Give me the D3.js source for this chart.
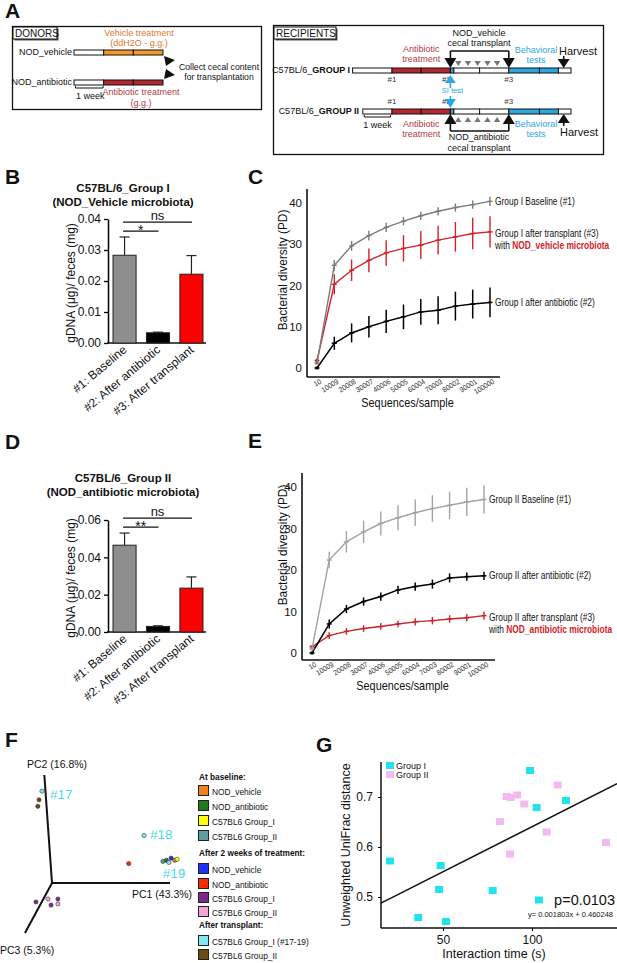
<!doctype html>
<html lang="en">
<head>
<meta charset="utf-8">
<title>Microbiota transplant figure</title>
<script src="https://d3js.org/d3.v7.min.js"></script>
<style>
    body { margin: 0; background: #fff; }
    svg text { font-family: "Liberation Sans", Arial, Helvetica, sans-serif; fill: #111; }
    .letter { font-size: 21px; font-weight: bold; }
</style>
</head>
<body>
<svg id="fig" width="617" height="963"></svg>
<script>
// ---------------- Data ----------------

// Panel A: timelines, in weeks (0 = start of antibiotic in recipients)
var donorNames      = ["NOD_vehicle", "NOD_antibiotic"];
var donorSegStart   = [0, 1, 2];
var donorSegEnd     = [1, 2, 3];
var donorSegType    = [["none", "vehicle", "vehicle"], ["none", "antibiotic", "antibiotic"]];

var recipNames      = ["GROUP I", "GROUP II"];
var recipFirstWeek  = [-1.35, -1];
var recipSegStart   = [null, 0, 1, 2, 2.12, 3, 4, 5.05, 5.7];
var recipSegEnd     = [0, 1, 2, 2.12, 3, 4, 5.05, 5.7, 6.13];
var recipSegType    = ["none", "antibiotic", "antibiotic", "si", "none", "none", "behavior", "behavior", "none"];
var sampleLabels    = ["#1", "#2", "#3"];
var sampleWeeks     = [0, 2, 4];
var transplantWeeks = [2, 4];
var gavageWeeks     = [2.27, 2.6, 2.93, 3.27, 3.6];
var harvestWeek     = 5.88;

// Panels B and D: gDNA per feces
var barCategories = ["#1: Baseline", "#2: After antibiotic", "#3: After transplant"];
var groupIMeans   = [0.0283, 0.0033, 0.0222];
var groupIErr     = [0.0059, 0.0002, 0.0060];
var groupIIMeans  = [0.0465, 0.0030, 0.0235];
var groupIIErr    = [0.0065, 0.0003, 0.0060];

// Panels C and E: rarefaction curves
var seqDepth = [10, 10009, 20008, 30007, 40006, 50005, 60004, 70003, 80002, 90001, 100000];

var cBaseline       = [1.2, 24.9, 29.6, 32.1, 34.1, 35.6, 36.9, 38.0, 38.9, 39.6, 40.4];
var cBaselineErr    = [0.3, 1.3, 1.2, 1.2, 1.1, 1.0, 1.0, 1.0, 1.0, 1.0, 1.1];
var cTransplant     = [1.8, 20.3, 23.7, 26.1, 27.9, 29.0, 29.8, 31.0, 31.8, 32.6, 33.0];
var cTransplantErr  = [0.5, 2.4, 2.6, 2.9, 3.1, 3.2, 3.4, 3.5, 3.6, 3.8, 3.8];
var cAntibiotic     = [0.0, 6.0, 8.5, 10.0, 11.3, 12.4, 13.6, 14.0, 15.0, 15.5, 15.9];
var cAntibioticErr  = [0.2, 1.6, 2.3, 2.6, 2.8, 3.0, 3.1, 3.4, 3.5, 3.5, 3.6];

var eBaseline       = [1.0, 22.4, 26.8, 29.2, 31.2, 32.6, 33.8, 34.8, 35.6, 36.4, 37.0];
var eBaselineErr    = [0.3, 2.0, 2.6, 2.7, 2.9, 3.0, 3.2, 3.2, 3.3, 3.4, 3.4];
var eAntibiotic     = [0.0, 7.0, 10.6, 12.4, 13.6, 15.2, 16.0, 16.6, 18.1, 18.4, 18.6];
var eAntibioticErr  = [0.2, 1.1, 1.0, 1.0, 1.0, 1.0, 1.0, 1.1, 1.1, 1.0, 1.0];
var eTransplant     = [1.5, 4.2, 5.2, 5.9, 6.4, 7.0, 7.5, 7.8, 8.2, 8.5, 9.0];
var eTransplantErr  = [0.3, 0.8, 0.8, 0.8, 0.8, 0.8, 0.9, 0.9, 0.9, 0.9, 1.0];

// Panel F: PCoA points, projected onto the page plane (PC1 / PC2 axis units)
var pcaProjX  = [-0.085, -0.11, -0.12, 0.78, 0.94, 0.97, 0.99, 1.01, 1.04, 1.06, 0.65, -0.136, -0.034, -0.008, 0.05, 0.05];
var pcaProjY  = [0.85, 0.77, 0.71, 0.44, 0.20, 0.21, 0.19, 0.23, 0.21, 0.22, 0.18, -0.176, -0.148, -0.204, -0.148, -0.194];
var pcaGroup  = [8, 9, 9, 8, 3, 1, 8, 4, 0, 2, 5, 6, 7, 6, 6, 7];
var pcAxisNames = ["PC1 (43.3%)", "PC2 (16.8%)", "PC3 (5.3%)"];
var pcAxisEndX  = [1, -0.065, -0.229];
var pcAxisEndY  = [0, 1, -0.463];
var pcHighlights = ["#17", "#18", "#19"];
var pcHighlightPoint = [0, 3, 6];

var legendSections = ["At baseline:", "After 2 weeks of treatment:", "After transplant:"];
var legendLabels = ["NOD_vehicle", "NOD_antibiotic", "C57BL6 Group_I", "C57BL6 Group_II",
                    "NOD_vehicle", "NOD_antibiotic", "C57BL6 Group_I", "C57BL6 Group_II",
                    "C57BL6 Group_I (#17-19)", "C57BL6 Group_II"];

// Panel G: UniFrac distance vs interaction time
var gIx  = [20.2, 48.7, 47.8, 36.1, 51.7, 77.9, 98.9, 102.6, 103.9, 119.1];
var gIy  = [0.572, 0.563, 0.515, 0.459, 0.451, 0.513, 0.753, 0.679, 0.494, 0.693];
var gIIx = [82.0, 85.8, 88.0, 91.7, 95.7, 87.6, 108.2, 114.4, 141.6];
var gIIy = [0.651, 0.701, 0.699, 0.704, 0.686, 0.586, 0.630, 0.724, 0.609];
var regSlope = 0.001803, regIntercept = 0.460248, regPValue = "0.0103";

// ---------------- Styles ----------------
var segFill = { none: "#fff", vehicle: "#f39a2a", antibiotic: "#b5262f", si: "#2ba8e0", behavior: "#2ba8e0" };
var legendColors = ["#f0821e", "#1f7a1f", "#ffff00", "#5f9ea0", "#1e30ff", "#ff2a00", "#7b2a8b", "#f2a6d6", "#7fe8f2", "#6b4a14"];
var cyanG = "#22e3ec", pinkG = "#f3b9f0";

var svg = d3.select("#fig");
svg.append("rect").attr("width", 617).attr("height", 963).attr("fill", "#fff");

// Panel letters
var letters = [["A", 5, 18], ["B", 5, 184], ["C", 248, 184], ["D", 5, 449], ["E", 248, 448], ["F", 5, 747], ["G", 316, 752]];
svg.selectAll("text.letter").data(letters).enter().append("text")
    .attr("class", "letter").attr("x", function(d) { return d[1]; }).attr("y", function(d) { return d[2]; })
    .text(function(d) { return d[0]; });

// Text helper; opts.sx squeezes the text horizontally (the figure uses a narrow face)
function txt(g, x, y, s, size, opts) {
    opts = opts || {};
    var t = g.append("text").attr("font-size", size).text(s)
        .attr("text-anchor", opts.anchor || "start");
    if (opts.sx) t.attr("transform", "translate(" + x + "," + y + ") scale(" + opts.sx + ",1)");
    else t.attr("x", x).attr("y", y);
    if (opts.fill) t.style("fill", opts.fill);
    if (opts.bold) t.attr("font-weight", "bold");
    return t;
}
function tri(g, pts, fill) {
    g.append("path").attr("d", "M" + pts.map(function(p) { return p.join(","); }).join("L") + "Z").attr("fill", fill);
}
function arrowV(g, x, tip, dir, w, h, stem, fill) {
    // dir = 1 points down, -1 points up
    tri(g, [[x - w / 2, tip - dir * h], [x + w / 2, tip - dir * h], [x, tip]], fill);
    if (stem) g.append("line").attr("x1", x).attr("x2", x).attr("y1", tip - dir * h).attr("y2", tip - dir * (h + stem))
        .attr("stroke", fill).attr("stroke-width", 1.6);
}
function labelBox(g, x, y, w, h, s) {
    g.append("rect").attr("x", x + 1.5).attr("y", y + 1.5).attr("width", w).attr("height", h).attr("fill", "#555");
    g.append("rect").attr("x", x).attr("y", y).attr("width", w).attr("height", h).attr("fill", "#fff").attr("stroke", "#111");
    txt(g, x + 2, y + h - 2.5, s, 10);
}

// ---------------- Panel A ----------------
var gA = svg.append("g");

// Donors
gA.append("rect").attr("x", 12.5).attr("y", 26.5).attr("width", 249).attr("height", 83)
    .attr("fill", "none").attr("stroke", "#111").attr("stroke-width", 1.3);
labelBox(gA, 13, 27, 44, 12, "DONORS");

var wxD = d3.scaleLinear().domain([0, 3]).range([74, 163]);
var donorY = [50, 80];
donorNames.forEach(function(name, r) {
    txt(gA, 72, donorY[r] + 5, name, 9, { anchor: "end" });
    donorSegStart.forEach(function(s, i) {
        gA.append("rect").attr("x", wxD(s)).attr("y", donorY[r]).attr("width", wxD(donorSegEnd[i]) - wxD(s)).attr("height", 5)
            .attr("fill", segFill[donorSegType[r][i]]).attr("stroke", "#111").attr("stroke-width", 1);
    });
});
txt(gA, 139, 36, "Vehicle treatment", 9, { anchor: "middle", fill: "#e07a2e" });
txt(gA, 139, 46, "(ddH2O - g.g.)", 9, { anchor: "middle", fill: "#e07a2e" });
txt(gA, 141, 95, "Antibiotic treatment", 9, { anchor: "middle", fill: "#b03a44" });
txt(gA, 141, 106, "(g.g.)", 9, { anchor: "middle", fill: "#b03a44" });
gA.append("path").attr("d", "M" + wxD(0.05) + ",86V88H" + wxD(0.98) + "V86").attr("fill", "none").attr("stroke", "#111");
txt(gA, wxD(0.55), 99, "1 week", 9, { anchor: "middle" });
tri(gA, [[164, 56], [175, 60], [166, 66]], "#111");
tri(gA, [[164, 79], [175, 75], [166, 69]], "#111");
txt(gA, 219, 70, "Collect cecal content", 8.7, { anchor: "middle" });
txt(gA, 219, 80, "for transplantation", 8.7, { anchor: "middle" });

// Recipients
gA.append("rect").attr("x", 273.5).attr("y", 25.5).attr("width", 330).attr("height", 129)
    .attr("fill", "none").attr("stroke", "#111").attr("stroke-width", 1.3);
labelBox(gA, 274, 27, 62, 12, "RECIPIENTS");

var wxR = d3.scaleLinear().domain([0, 1]).range([392, 421.2]);
var recipY = [68, 109];
recipNames.forEach(function(name, r) {
    var lab = txt(gA, r === 0 ? 350 : 359, recipY[r] + 5, "C57BL/6_", 9, { anchor: "end" });
    lab.append("tspan").attr("font-weight", "bold").text(name);
    recipSegStart.forEach(function(s, i) {
        var s0 = (s === null) ? recipFirstWeek[r] : s;
        gA.append("rect").attr("x", wxR(s0)).attr("y", recipY[r]).attr("width", wxR(recipSegEnd[i]) - wxR(s0)).attr("height", 5)
            .attr("fill", segFill[recipSegType[i]]).attr("stroke", "#111").attr("stroke-width", 1);
    });
    sampleLabels.forEach(function(s, i) {
        txt(gA, wxR(sampleWeeks[i]) - (i === 1 ? 4 : 0), r === 0 ? 82 : 104, s, 8, { anchor: "middle", fill: "#333" });
    });
});

// Group I: transplant arrows above the bar
transplantWeeks.forEach(function(w) { arrowV(gA, wxR(w), 68, 1, 12, 10, 7, "#111"); });
gA.append("line").attr("x1", wxR(2)).attr("x2", wxR(4)).attr("y1", 51).attr("y2", 51).attr("stroke", "#111").attr("stroke-width", 1.6);
gavageWeeks.forEach(function(w) { arrowV(gA, wxR(w), 66, 1, 6.5, 5, 0, "#777"); });
arrowV(gA, wxR(harvestWeek), 68, 1, 12, 9, 3, "#111");
txt(gA, wxR(1), 52, "Antibiotic", 9, { anchor: "middle", fill: "#b03a44" });
txt(gA, wxR(1), 62, "treatment", 9, { anchor: "middle", fill: "#b03a44" });
txt(gA, 479, 36, "NOD_vehicle", 9, { anchor: "middle" });
txt(gA, 479, 46, "cecal transplant", 9, { anchor: "middle" });
txt(gA, 536, 53, "Behavioral", 9, { anchor: "middle", fill: "#2ba8e0" });
txt(gA, 536, 63, "tests", 9, { anchor: "middle", fill: "#2ba8e0" });
txt(gA, 578, 55, "Harvest", 11, { anchor: "middle" });

// SI test arrows
arrowV(gA, wxR(2), 75, -1, 11, 8, 5, "#2ba8e0");
txt(gA, wxR(2) + 2, 93, "SI test", 7.5, { anchor: "middle", fill: "#2ba8e0" });
arrowV(gA, wxR(2), 108, 1, 11, 9, 3, "#2ba8e0");

// Group II: transplant arrows below the bar
transplantWeeks.forEach(function(w) { arrowV(gA, wxR(w), 114, -1, 12, 10, 7, "#111"); });
gA.append("line").attr("x1", wxR(2)).attr("x2", wxR(4)).attr("y1", 131).attr("y2", 131).attr("stroke", "#111").attr("stroke-width", 1.6);
gavageWeeks.forEach(function(w) { arrowV(gA, wxR(w), 117, -1, 6.5, 5, 0, "#777"); });
arrowV(gA, wxR(harvestWeek), 114, -1, 12, 9, 3, "#111");
gA.append("path").attr("d", "M" + wxR(-0.95) + ",115V117H" + wxR(-0.05) + "V115").attr("fill", "none").attr("stroke", "#111");
txt(gA, wxR(-0.5), 128, "1 week", 9, { anchor: "middle" });
txt(gA, wxR(1), 127, "Antibiotic", 9, { anchor: "middle", fill: "#b03a44" });
txt(gA, wxR(1), 137, "treatment", 9, { anchor: "middle", fill: "#b03a44" });
txt(gA, 479, 140, "NOD_antibiotic", 9, { anchor: "middle" });
txt(gA, 479, 151, "cecal transplant", 9, { anchor: "middle" });
txt(gA, 536, 127, "Behavioral", 9, { anchor: "middle", fill: "#2ba8e0" });
txt(gA, 536, 137, "tests", 9, { anchor: "middle", fill: "#2ba8e0" });
txt(gA, 579, 136, "Harvest", 11, { anchor: "middle" });

// ---------------- Panels B and D: bar charts ----------------
function drawBars(o) {
    var g = svg.append("g");
    var x = d3.scaleBand().domain(barCategories).range([108, 208]).paddingInner(0.31).paddingOuter(0.15);
    var y = d3.scaleLinear().domain([0, o.yMax]).range([o.y0, o.y1]);
    var fills = ["#8e8e8e", "#000", "#ff0000"];

    txt(g, 123, o.titleY, o.title[0], 11.5, { anchor: "middle", bold: true });
    txt(g, 123, o.titleY + 14, o.title[1], 11.5, { anchor: "middle", bold: true });

    // Y axis
    var ax = g.append("g").attr("transform", "translate(108,0)")
        .call(d3.axisLeft(y).tickValues(o.ticks).tickFormat(d3.format(".2f")).tickSize(4).tickSizeOuter(0));
    ax.select(".domain").attr("stroke-width", 1.5);
    ax.selectAll(".tick line").attr("stroke-width", 1.3);
    ax.selectAll("text").attr("font-size", 12).attr("font-family", "Liberation Sans, Arial, sans-serif").style("fill", "#111");
    g.append("line").attr("x1", 107).attr("x2", 206).attr("y1", o.y0).attr("y2", o.y0).attr("stroke", "#111").attr("stroke-width", 1.5);

    // Bars with upward error bars
    var bar = g.selectAll("g.bar").data(o.means).enter().append("g");
    bar.append("line")
        .attr("x1", function(d, i) { return x(barCategories[i]) + x.bandwidth() / 2; })
        .attr("x2", function(d, i) { return x(barCategories[i]) + x.bandwidth() / 2; })
        .attr("y1", function(d) { return y(d); })
        .attr("y2", function(d, i) { return y(d + o.errs[i]); })
        .attr("stroke", "#222").attr("stroke-width", 1.2);
    bar.append("line")
        .attr("x1", function(d, i) { return x(barCategories[i]) + x.bandwidth() / 2 - 5; })
        .attr("x2", function(d, i) { return x(barCategories[i]) + x.bandwidth() / 2 + 5; })
        .attr("y1", function(d, i) { return y(d + o.errs[i]); })
        .attr("y2", function(d, i) { return y(d + o.errs[i]); })
        .attr("stroke", "#222").attr("stroke-width", 1.2);
    bar.append("rect")
        .attr("x", function(d, i) { return x(barCategories[i]); })
        .attr("y", function(d) { return y(d); })
        .attr("width", x.bandwidth())
        .attr("height", function(d) { return o.y0 - y(d); })
        .attr("fill", function(d, i) { return fills[i]; })
        .attr("stroke", "#222").attr("stroke-width", 1);

    // Category labels
    g.selectAll("text.cat").data(barCategories).enter().append("text")
        .attr("font-size", 12).attr("text-anchor", "end")
        .attr("transform", function(d) { return "translate(" + (x(d) + x.bandwidth() / 2 + 3) + "," + (o.y0 + 8) + ") rotate(-40)"; })
        .text(function(d) { return d; });

    // Significance brackets
    o.sig.forEach(function(s) {
        var xa = x(barCategories[s[1]]) + x.bandwidth() / 2 - 1.5, xb = x(barCategories[s[2]]) + x.bandwidth() / 2 + 0.5;
        g.append("line").attr("x1", xa).attr("x2", xb).attr("y1", y(s[3])).attr("y2", y(s[3])).attr("stroke", "#111").attr("stroke-width", 1.3);
        txt(g, (xa + xb) / 2, y(s[3]) - (s[0] === "ns" ? 2 : -4), s[0], s[0] === "ns" ? 13 : 14, { anchor: "middle" });
    });

    // Y label
    g.append("text").attr("transform", "translate(" + 75 + "," + ((o.y0 + o.y1) / 2 + 2) + ") rotate(-90)")
        .attr("text-anchor", "middle").attr("font-size", 12).text("gDNA (\u03bcg)/ feces (mg)");
}

drawBars({ means: groupIMeans, errs: groupIErr, yMax: 0.04, ticks: [0, 0.01, 0.02, 0.03, 0.04], y0: 343, y1: 219, titleY: 192,
           title: ["C57BL/6_Group I", "(NOD_Vehicle microbiota)"], sig: [["*", 0, 1, 0.0361], ["ns", 0, 2, 0.039]] });
drawBars({ means: groupIIMeans, errs: groupIIErr, yMax: 0.06, ticks: [0, 0.02, 0.04, 0.06], y0: 632, y1: 520, titleY: 482,
           title: ["C57BL/6_Group II", "(NOD_antibiotic microbiota)"], sig: [["**", 0, 1, 0.0562], ["ns", 0, 2, 0.0610]] });

// ---------------- Panels C and E: rarefaction curves ----------------
function drawCurves(o) {
    var g = svg.append("g");
    var x = d3.scaleLinear().domain([10, 100000]).range([o.xL, o.xR]);
    var y = d3.scaleLinear().domain([0, 40]).range([o.y0, o.y40]);

    g.append("line").attr("x1", o.axX).attr("x2", o.axX).attr("y1", o.axTop).attr("y2", o.axBottom).attr("stroke", "#111").attr("stroke-width", 1.6);
    g.append("line").attr("x1", o.axX).attr("x2", o.axRight).attr("y1", o.axBottom).attr("y2", o.axBottom).attr("stroke", "#111").attr("stroke-width", 1.6);

    var ay = g.append("g").attr("transform", "translate(" + o.axX + ",0)")
        .call(d3.axisLeft(y).tickValues([0, 10, 20, 30, 40]).tickSize(0).tickPadding(5));
    ay.select(".domain").remove();
    ay.selectAll("text").attr("font-size", 11.5).attr("font-family", "Liberation Sans, Arial, sans-serif").style("fill", "#111");

    g.selectAll("text.xt").data(seqDepth).enter().append("text")
        .attr("font-size", 7.5).attr("text-anchor", "end")
        .attr("transform", function(d) { return "translate(" + (x(d) + 5) + "," + (o.axBottom + 6) + ") rotate(-31) scale(0.9,1)"; })
        .style("fill", "#333").text(function(d) { return d; });

    txt(g, (o.axX + o.axRight) / 2 + 4, o.axBottom + 30, "Sequences/sample", 12.5, { anchor: "middle", sx: 0.87 });
    g.append("text").attr("transform", "translate(287," + o.yLabelMid + ") rotate(-90) scale(0.88,1)")
        .attr("text-anchor", "middle").attr("font-size", 13.5).text("Bacterial diversity (PD)");

    var line = d3.line().x(function(d, i) { return x(seqDepth[i]); }).y(function(d) { return y(d); });
    o.series.forEach(function(s) {
        g.append("path").datum(s.v).attr("d", line).attr("fill", "none").attr("stroke", s.color).attr("stroke-width", s.w);
        g.selectAll(null).data(s.v).enter().append("line")
            .attr("x1", function(d, i) { return x(seqDepth[i]); })
            .attr("x2", function(d, i) { return x(seqDepth[i]); })
            .attr("y1", function(d, i) { return y(d - s.e[i]); })
            .attr("y2", function(d, i) { return y(d + s.e[i]); })
            .attr("stroke", s.color).attr("stroke-width", s.w);
        g.selectAll(null).data(s.v).enter().append("line")
            .attr("x1", function(d, i) { return x(seqDepth[i]) - 2.5; })
            .attr("x2", function(d, i) { return x(seqDepth[i]) + 2.5; })
            .attr("y1", function(d) { return y(d); })
            .attr("y2", function(d) { return y(d); })
            .attr("stroke", s.color).attr("stroke-width", s.w);
        g.append("rect").attr("x", x(seqDepth[0]) - 1.5).attr("y", y(s.v[0]) - 1.5).attr("width", 3).attr("height", 3).attr("fill", s.color);
        s.label.forEach(function(l, k) {
            var t = txt(g, o.xR + 5, y(s.v[s.v.length - 1]) + 4 + s.labelDy + k * 12.5, l[0], 10.5, { sx: 0.8 });
            if (l[1]) t.append("tspan").attr("font-weight", "bold").style("fill", "#d3222a").text(l[1]);
        });
    });
}

drawCurves({ xL: 317, xR: 490, y0: 368, y40: 203, axX: 307, axTop: 189, axBottom: 377, axRight: 500, yLabelMid: 270,
    series: [
        { v: cAntibiotic, e: cAntibioticErr, color: "#000", w: 1.5, labelDy: 0, label: [["Group I after antibiotic (#2)"]] },
        { v: cTransplant, e: cTransplantErr, color: "#d3222a", w: 1.4, labelDy: 1, label: [["Group I after transplant (#3)"], ["with ", "NOD_vehicle microbiota"]] },
        { v: cBaseline, e: cBaselineErr, color: "#7c7c7c", w: 1.4, labelDy: 0, label: [["Group I Baseline (#1)"]] }
    ] });

drawCurves({ xL: 312, xR: 484, y0: 653, y40: 487, axX: 302, axTop: 473, axBottom: 660, axRight: 495, yLabelMid: 545,
    series: [
        { v: eTransplant, e: eTransplantErr, color: "#c9232b", w: 1.4, labelDy: 1, label: [["Group II after transplant (#3)"], ["with ", "NOD_antibiotic microbiota"]] },
        { v: eAntibiotic, e: eAntibioticErr, color: "#000", w: 1.5, labelDy: -1, label: [["Group II after antibiotic (#2)"]] },
        { v: eBaseline, e: eBaselineErr, color: "#a3a3a3", w: 1.4, labelDy: 0, label: [["Group II Baseline (#1)"]] }
    ] });

// ---------------- Panel F: PCoA ----------------
var gF = svg.append("g");
var fx = d3.scaleLinear().domain([0, 1]).range([52, 170]);
var fy = d3.scaleLinear().domain([0, 1]).range([883, 775]);

pcAxisNames.forEach(function(n, i) {
    gF.append("line").attr("x1", fx(0)).attr("y1", fy(0)).attr("x2", fx(pcAxisEndX[i])).attr("y2", fy(pcAxisEndY[i]))
        .attr("stroke", "#111").attr("stroke-width", 2);
});
txt(gF, 132, 898, pcAxisNames[0], 10.5);
txt(gF, 27, 768, pcAxisNames[1], 10.5);
txt(gF, 0, 954, pcAxisNames[2], 10.5);

gF.selectAll("circle").data(pcaProjX).enter().append("circle")
    .attr("cx", function(d) { return fx(d); })
    .attr("cy", function(d, i) { return fy(pcaProjY[i]); })
    .attr("r", 2.1)
    .attr("fill", function(d, i) { return legendColors[pcaGroup[i]]; })
    .attr("stroke", "#333").attr("stroke-width", 0.6);

var hlDx = [8, 6, -6], hlDy = [8, 4, 16];
pcHighlights.forEach(function(h, i) {
    var p = pcHighlightPoint[i];
    txt(gF, fx(pcaProjX[p]) + hlDx[i], fy(pcaProjY[p]) + hlDy[i], h, 13.5, { fill: "#4fd6e6" });
});

// Legend
var rowY = [791, 806, 821, 836, 869, 884, 898, 912, 941, 955];
var secY = [780, 856, 928];
legendSections.forEach(function(s, i) { txt(gF, 199, secY[i], s, 9, { bold: true, sx: 0.92 }); });
legendLabels.forEach(function(l, i) {
    gF.append("rect").attr("x", 198.5).attr("y", rowY[i] - 5.5).attr("width", 10).attr("height", 10)
        .attr("fill", legendColors[i]).attr("stroke", "#222").attr("stroke-width", 1);
    txt(gF, 212, rowY[i] + 3.5, l, 9, { sx: 0.93 });
});

// ---------------- Panel G: scatter ----------------
var gG = svg.append("g");
var gx = d3.scaleLinear().domain([50, 100]).range([443, 532]);
var gy = d3.scaleLinear().domain([0.5, 0.7]).range([897, 797]);

gG.append("line").attr("x1", 381).attr("x2", 381).attr("y1", 762).attr("y2", 928).attr("stroke", "#111").attr("stroke-width", 1.5);
gG.append("line").attr("x1", 381).attr("x2", 617).attr("y1", 928).attr("y2", 928).attr("stroke", "#111").attr("stroke-width", 1.5);

var gax = gG.append("g").attr("transform", "translate(0,928)").call(d3.axisBottom(gx).tickValues([50, 100]).tickSize(3).tickPadding(4));
gax.select(".domain").remove();
gax.selectAll("text").attr("font-size", 12).attr("font-family", "Liberation Sans, Arial, sans-serif").style("fill", "#111");
var gay = gG.append("g").attr("transform", "translate(381,0)").call(d3.axisLeft(gy).tickValues([0.5, 0.6, 0.7]).tickFormat(d3.format(".1f")).tickSize(3).tickPadding(5));
gay.select(".domain").remove();
gay.selectAll("text").attr("font-size", 12).attr("font-family", "Liberation Sans, Arial, sans-serif").style("fill", "#111");

txt(gG, 494, 958, "Interaction time (s)", 12.5, { anchor: "middle" });
gG.append("text").attr("transform", "translate(350,845) rotate(-90)").attr("text-anchor", "middle").attr("font-size", 12.5).text("Unweighted UniFrac distance");

gG.selectAll("rect.g1").data(gIx).enter().append("rect")
    .attr("x", function(d) { return gx(d) - 4; }).attr("y", function(d, i) { return gy(gIy[i]) - 3.5; })
    .attr("width", 8).attr("height", 7).attr("fill", cyanG);
gG.selectAll("rect.g2").data(gIIx).enter().append("rect")
    .attr("x", function(d) { return gx(d) - 4; }).attr("y", function(d, i) { return gy(gIIy[i]) - 3.5; })
    .attr("width", 8).attr("height", 7).attr("fill", pinkG);

// Fitted line
var gxDomain = [gx.invert(381), gx.invert(617)];
gG.append("line")
    .attr("x1", gx(gxDomain[0])).attr("y1", gy(regIntercept + regSlope * gxDomain[0]))
    .attr("x2", gx(gxDomain[1])).attr("y2", gy(regIntercept + regSlope * gxDomain[1]))
    .attr("stroke", "#111").attr("stroke-width", 1.4);

txt(gG, 615, 905, "p=" + regPValue, 14.5, { anchor: "end" });
txt(gG, 613, 917, "y= " + regSlope + "x + " + regIntercept, 7.5, { anchor: "end" });

gG.append("rect").attr("x", 386).attr("y", 762).attr("width", 8).attr("height", 7).attr("fill", cyanG);
gG.append("rect").attr("x", 386).attr("y", 771).attr("width", 8).attr("height", 7).attr("fill", pinkG);
txt(gG, 396, 769, "Group I", 9);
txt(gG, 396, 778, "Group II", 9);
</script>
</body>
</html>
